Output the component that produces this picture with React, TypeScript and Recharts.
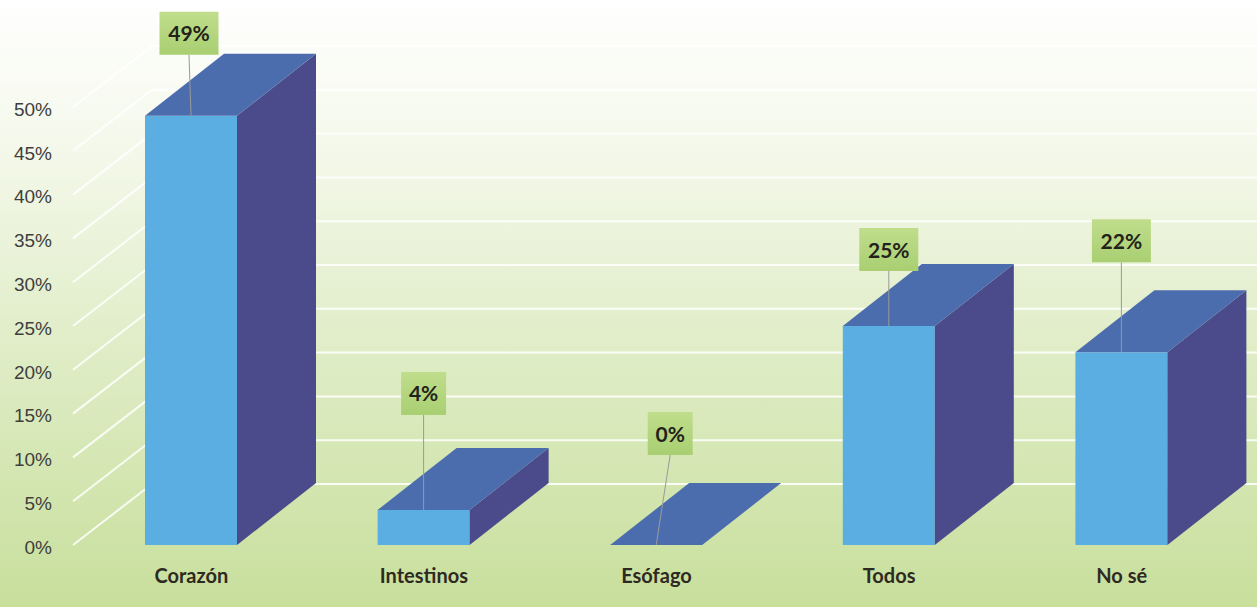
import React from "react";
import { BarChart, Bar, XAxis, YAxis, CartesianGrid, LabelList } from "recharts";

const categories = ["Corazón", "Intestinos", "Esófago", "Todos", "No sé"];
const values = [49, 4, 0, 25, 22];
const yTicks = [0, 5, 10, 15, 20, 25, 30, 35, 40, 45, 50];

// how far each value box sits above its bar (px) and sideways nudge
const labelLift = [61, 95, 90, 55, 90];
const labelShift = [-2, 0, 14, 0, 0];

const DX = 79;
const DY = 62;

const FRONT = "#5aaee2";
const TOP = "#4c6dad";
const SIDE = "#4b4a8a";

const chartData = categories.map((name, i) => ({ name, value: values[i] }));

function Bar3D(props: any) {
  const { x, y, width, height } = props;
  const x2 = x + width;
  const yb = y + height;
  return (
    <g>
      {height > 0 && <rect x={x} y={y} width={width} height={height} fill={FRONT} />}
      <polygon
        points={`${x2},${y} ${x2 + DX},${y - DY} ${x2 + DX},${yb - DY} ${x2},${yb}`}
        fill={SIDE}
      />
      <polygon
        points={`${x},${y} ${x + DX},${y - DY} ${x2 + DX},${y - DY} ${x2},${y}`}
        fill={TOP}
      />
    </g>
  );
}

function ValueBox(props: any) {
  const { x, y, width, value, index } = props;
  const text = `${value}%`;
  const cx = x + width / 2 + labelShift[index];
  const bottom = y - labelLift[index];
  const h = 43;
  const w = 17 + 14 * text.length;
  return (
    <g>
      <line x1={cx} y1={bottom} x2={x + width / 2} y2={y} stroke="#9a9a9a" strokeWidth={1} />
      <rect x={cx - w / 2} y={bottom - h} width={w} height={h} fill="url(#boxGrad)" />
      <text
        x={cx}
        y={bottom - h / 2 + 8}
        textAnchor="middle"
        fontFamily="Lato, sans-serif"
        fontWeight={700}
        fontSize={21}
        fill="#22221a"
      >
        {text}
      </text>
    </g>
  );
}

function GridLine(props: any) {
  const { x1, y1, x2 } = props;
  const bx = x1 + DX - 2;
  const by = y1 - DY + 1;
  return (
    <g>
      <line x1={x1 - 2} y1={y1} x2={bx} y2={by} stroke="#ffffff" strokeWidth={2} strokeOpacity={0.85} />
      <line x1={bx} y1={by} x2={x2 + 40} y2={by} stroke="#ffffff" strokeWidth={2} strokeOpacity={0.85} />
    </g>
  );
}

function CategoryTick(props: any) {
  const { x, y, payload } = props;
  return (
    <text
      x={x}
      y={y + 38}
      textAnchor="middle"
      fontFamily="Lato, sans-serif"
      fontWeight={700}
      fontSize={20}
      fill="#2e2a22"
    >
      {payload.value}
    </text>
  );
}

export default function App() {
  return (
    <div
      style={{
        width: 1257,
        height: 607,
        background:
          "linear-gradient(180deg, #ffffff 0%, #f4f8ea 25%, #deecc4 60%, #c8df9c 100%)",
      }}
    >
      <style>{`body{margin:0}`}</style>
      <BarChart
        width={1257}
        height={607}
        data={chartData}
        margin={{ top: 107, right: 19, bottom: 0, left: 0 }}
      >
        <defs>
          <linearGradient id="boxGrad" x1="0" y1="0" x2="0" y2="1">
            <stop offset="0%" stopColor="#c0dd8c" />
            <stop offset="100%" stopColor="#a9cf72" />
          </linearGradient>
        </defs>
        <CartesianGrid vertical={false} horizontal={(p: any) => <GridLine key={p.key} {...p} />} />
        <XAxis
          dataKey="name"
          axisLine={false}
          tickLine={false}
          tickSize={0}
          tickMargin={0}
          height={62}
          tick={<CategoryTick />}
        />
        <YAxis
          domain={[0, 50]}
          ticks={yTicks}
          width={75}
          axisLine={false}
          tickLine={false}
          tickSize={0}
          tickMargin={23}
          tickFormatter={(v) => `${v}%`}
          tick={{ fontFamily: "Liberation Sans, Arial, sans-serif", fontSize: 19, fill: "#3e3e3e", dy: 2 }}
        />
        <Bar dataKey="value" barSize={92} isAnimationActive={false} shape={<Bar3D />}>
          <LabelList dataKey="value" content={<ValueBox />} />
        </Bar>
      </BarChart>
    </div>
  );
}
